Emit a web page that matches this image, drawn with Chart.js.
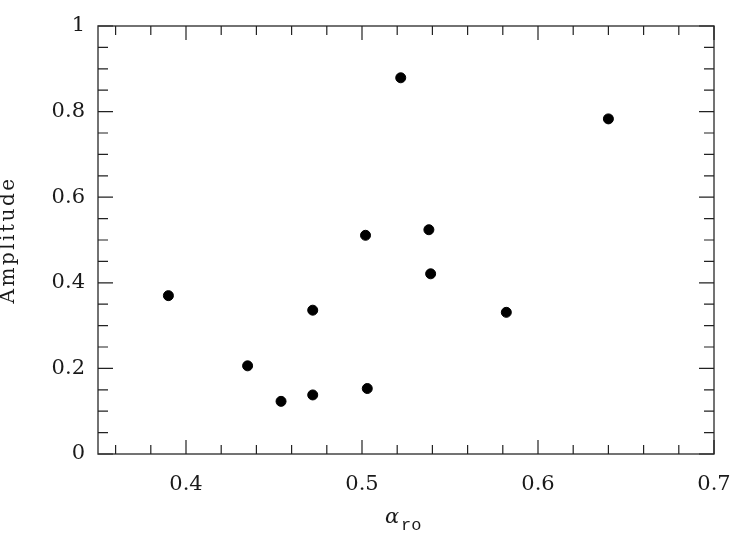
<!DOCTYPE html>
<html>
<head>
<meta charset="utf-8">
<script src="https://cdn.jsdelivr.net/npm/chart.js@4/dist/chart.umd.min.js"></script>
<style>
  body { margin: 0; background: #fff; }
  #wrap { width: 756px; height: 543px; }
</style>
</head>
<body>
<div id="wrap"><canvas id="chart"></canvas></div>
<script>
// alpha_ro vs amplitude
const alphaRo   = [0.390, 0.472, 0.435, 0.454, 0.472, 0.503, 0.522, 0.502, 0.538, 0.539, 0.582, 0.640];
const amplitude = [0.370, 0.336, 0.206, 0.123, 0.138, 0.153, 0.879, 0.511, 0.524, 0.421, 0.331, 0.783];

const xMajorTicks = [0.4, 0.5, 0.6, 0.7];
const xMinorTicks = [0.36, 0.38, 0.42, 0.44, 0.46, 0.48, 0.52, 0.54, 0.56, 0.58, 0.62, 0.64, 0.66, 0.68];
const yMajorTicks = [0, 0.2, 0.4, 0.6, 0.8, 1];
const yMinorTicks = [0.05, 0.1, 0.15, 0.25, 0.3, 0.35, 0.45, 0.5, 0.55, 0.65, 0.7, 0.75, 0.85, 0.9, 0.95];

const points = alphaRo.map((x, i) => ({ x: x, y: amplitude[i] }));

const fmt = v => String(Math.round(v * 100) / 100);

// box, inward ticks on all four sides and the axis titles
const framePlugin = {
  id: 'frame',
  afterDraw(chart) {
    const ctx = chart.ctx;
    const a = chart.chartArea;
    const sx = chart.scales.x;
    const sy = chart.scales.y;
    ctx.save();
    ctx.strokeStyle = '#444';
    ctx.lineWidth = 1.5;
    ctx.strokeRect(a.left, a.top, a.right - a.left, a.bottom - a.top);

    ctx.strokeStyle = '#222';
    ctx.lineWidth = 1.2;
    ctx.beginPath();
    const xTick = (v, len) => {
      const px = sx.getPixelForValue(v);
      ctx.moveTo(px, a.bottom); ctx.lineTo(px, a.bottom - len);
      ctx.moveTo(px, a.top); ctx.lineTo(px, a.top + len);
    };
    const yTick = (v, len) => {
      const py = sy.getPixelForValue(v);
      ctx.moveTo(a.left, py); ctx.lineTo(a.left + len, py);
      ctx.moveTo(a.right, py); ctx.lineTo(a.right - len, py);
    };
    xMajorTicks.forEach(v => xTick(v, 14));
    xMinorTicks.forEach(v => xTick(v, 9));
    yMajorTicks.forEach(v => yTick(v, 15));
    yMinorTicks.forEach(v => yTick(v, 10));
    ctx.stroke();

    ctx.fillStyle = '#1a1a1a';
    // y title
    ctx.save();
    ctx.translate(14, (a.top + a.bottom) / 2);
    ctx.rotate(-Math.PI / 2);
    ctx.font = '20px "DejaVu Serif"';
    ctx.letterSpacing = '2.5px';
    ctx.textAlign = 'center';
    ctx.textBaseline = 'alphabetic';
    ctx.fillText('Amplitude', 0, 0);
    ctx.restore();

    // x title: alpha with subscript "ro"
    ctx.font = 'italic 21px "DejaVu Serif"';
    ctx.textAlign = 'left';
    ctx.textBaseline = 'alphabetic';
    ctx.fillText('α', 385, 523);
    ctx.font = '17px "Liberation Mono"';
    ctx.fillText('ro', 401, 530);
    ctx.restore();
  }
};

new Chart(document.getElementById('chart'), {
  type: 'scatter',
  data: {
    datasets: [{
      data: points,
      backgroundColor: '#000',
      borderColor: '#000',
      pointRadius: 5,
      pointHoverRadius: 5
    }]
  },
  options: {
    responsive: true,
    maintainAspectRatio: false,
    animation: false,
    layout: { padding: { top: 26, right: 42, left: 0, bottom: 0 } },
    plugins: { legend: { display: false }, tooltip: { enabled: false } },
    scales: {
      x: {
        type: 'linear',
        min: 0.35,
        max: 0.7,
        afterBuildTicks: s => { s.ticks = xMajorTicks.map(v => ({ value: v })); },
        afterFit: s => { s.height = 89; },
        grid: { display: false, drawTicks: false },
        border: { display: false },
        ticks: {
          padding: 18,
          color: '#1a1a1a',
          font: { family: '"DejaVu Serif"', size: 21 },
          callback: fmt
        }
      },
      y: {
        type: 'linear',
        min: 0,
        max: 1,
        afterBuildTicks: s => { s.ticks = yMajorTicks.map(v => ({ value: v })); },
        afterFit: s => { s.width = 98; },
        grid: { display: false, drawTicks: false },
        border: { display: false },
        ticks: {
          padding: 13,
          color: '#1a1a1a',
          font: { family: '"DejaVu Serif"', size: 21 },
          callback: fmt
        }
      }
    }
  },
  plugins: [framePlugin]
});
</script>
</body>
</html>
